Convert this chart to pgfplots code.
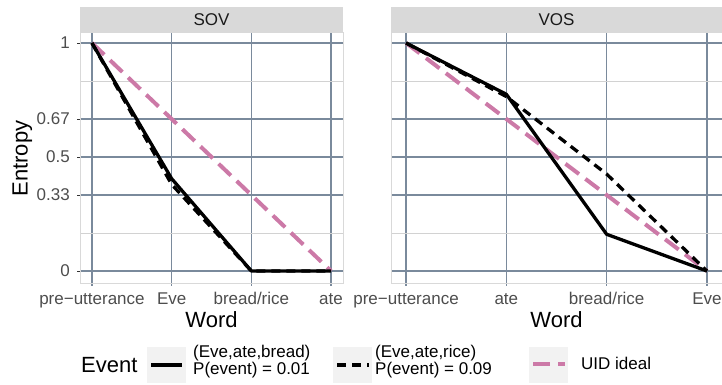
\documentclass[border=0pt]{standalone}
\usepackage{pgfplots}
\pgfplotsset{compat=1.18}
\usepackage{fontspec}
\setmainfont{Liberation Sans}
\definecolor{gridc}{HTML}{7A8A9C}
\definecolor{minorgrid}{HTML}{D2D2D2}
\definecolor{borderc}{HTML}{D9D9D9}
\definecolor{stripc}{HTML}{D9D9D9}
\definecolor{tickc}{HTML}{4D4D4D}
\definecolor{uid}{HTML}{CC79A7}
\definecolor{keybg}{HTML}{F2F2F2}
\newcommand{\ft}{\fontsize{17}{19}\selectfont}
\newcommand{\fT}{\fontsize{22}{24}\selectfont}

\tikzset{
  solidl/.style={black, line width=3.3pt, line join=round},
  dashl/.style={black, line width=3.3pt, line join=round, dash pattern=on 9pt off 6pt},
  uidl/.style={uid, line width=4pt, line join=round, dash pattern=on 17pt off 8pt},
}
\pgfplotsset{
  facet/.style={
    scale only axis,
    height=251pt,
    anchor=south west,
    xmin=-0.15, xmax=3.15,
    ymin=-0.0526, ymax=1.0482,
    xtick={0,1,2,3},
    ytick={0,0.33333,0.5,0.66667,1},
    minor ytick={0.166667,0.833333},
    grid=both,
    major grid style={gridc, line width=1.35pt},
    minor grid style={minorgrid, line width=0.9pt},
    axis line style={borderc, line width=0.8pt},
    tick align=outside,
    tick pos=left,
    major tick length=3pt,
    minor tick length=0pt,
    xtick style={gridc, line width=1.35pt},
    xticklabel style={font=\ft, text=tickc, inner sep=0pt, anchor=base},
    yticklabel style={font=\ft, text=tickc, inner sep=0pt, anchor=east},
    clip=true,
  },
}

\begin{document}
\begin{tikzpicture}[x=1pt,y=1pt]
\useasboundingbox (0,0) rectangle (722,385);

% strips
\fill[stripc] (80,353) rectangle (343,378);
\node[font=\ft, text=black!90, anchor=base, inner sep=0pt] at (211.5,359) {SOV};
\fill[stripc] (391,353) rectangle (722,378);
\node[font=\ft, text=black!90, anchor=base, inner sep=0pt] at (556.5,359) {VOS};

% left panel
\begin{axis}[facet, width=263pt, at={(80pt,102pt)},
  xticklabels={pre−utterance,Eve,bread/rice,ate},
  yticklabels={0,0.33,0.5,0.67,1},
  ytick style={black!80, line width=0.8pt},
  xticklabel style={yshift=-19pt},
  yticklabel style={xshift=-7pt},
]
\addplot[uidl] coordinates {(0,1) (1,0.66667) (2,0.33333) (3,0)};
\addplot[dashl] coordinates {(0,1) (1,0.38) (2,0) (3,0)};
\addplot[solidl] coordinates {(0,1) (1,0.405) (2,0) (3,0)};
\end{axis}

% right panel
\begin{axis}[facet, width=331pt, at={(391pt,102pt)},
  xticklabels={pre−utterance,ate,bread/rice,Eve},
  yticklabels={},
  ytick style={draw=none},
  xticklabel style={yshift=-19pt},
]
\addplot[uidl] coordinates {(0,1) (1,0.66667) (2,0.33333) (3,0)};
\addplot[dashl] coordinates {(0,1) (1,0.765) (2,0.425) (3,0)};
\addplot[solidl] coordinates {(0,1) (1,0.775) (2,0.161) (3,0)};
\end{axis}

% axis titles
\node[font=\fT, anchor=base, inner sep=0pt] at (211.5,57) {Word};
\node[font=\fT, anchor=base, inner sep=0pt] at (556.5,57) {Word};
\node[font=\fT, anchor=base, inner sep=0pt, rotate=90] at (27.5,226.5) {Entropy};

% legend
\node[font=\fT, anchor=base west, inner sep=0pt] at (81,12) {Event};
\fill[keybg] (147,2) rectangle (186,38);
\draw[solidl] (151,20) -- (182,20);
\node[font=\ft, anchor=base west, inner sep=0pt] at (193,27) {(Eve,ate,bread)};
\node[font=\ft, anchor=base west, inner sep=0pt] at (193,10) {P(event) = 0.01};
\fill[keybg] (333,2) rectangle (372,38);
\draw[dashl] (337,20) -- (369,20);
\node[font=\ft, anchor=base west, inner sep=0pt] at (375,27) {(Eve,ate,rice)};
\node[font=\ft, anchor=base west, inner sep=0pt] at (375,10) {P(event) = 0.09};
\fill[keybg] (529,2) rectangle (568,38);
\draw[uidl] (533,21) -- (565,21);
\node[font=\ft, anchor=base west, inner sep=0pt] at (581,15) {UID ideal};
\end{tikzpicture}
\end{document}
